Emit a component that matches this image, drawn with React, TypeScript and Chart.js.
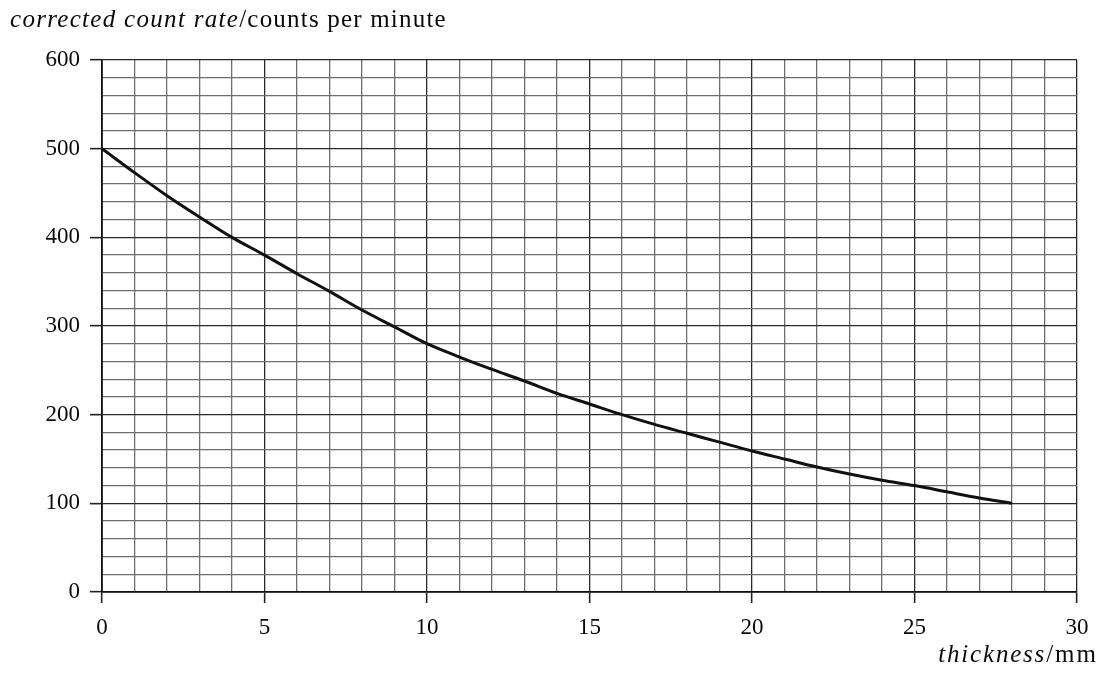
import React, { useEffect, useRef } from "react";
import { Chart, registerables } from "chart.js";

Chart.register(...registerables);

const thicknessMm = [0, 1, 2, 3, 4, 5, 6, 7, 8, 9, 10, 11, 12, 13, 14, 15, 16, 17, 18, 19, 20, 21, 22, 23, 24, 25, 26, 27, 28];
const countRate = [500, 473, 447, 423, 400, 380, 359, 339, 318, 299, 280, 265, 251, 238, 224, 212, 200, 189, 179, 169, 159, 150, 141, 133, 126, 120, 113, 106, 100];
const xMajorLabels = [0, 5, 10, 15, 20, 25, 30];
const yMajorLabels = [0, 100, 200, 300, 400, 500, 600];

const SERIF = '"Liberation Serif", "Times New Roman", serif';

export default function App() {
  const canvasRef = useRef<HTMLCanvasElement | null>(null);

  useEffect(() => {
    const canvas = canvasRef.current;
    if (!canvas) return;
    const points = thicknessMm.map((x, i) => ({ x, y: countRate[i] }));
    const isXMajor = (v: number) => xMajorLabels.includes(v);
    const isYMajor = (v: number) => yMajorLabels.includes(v);

    const chart = new Chart(canvas, {
      type: "line",
      data: {
        datasets: [
          {
            data: points,
            borderColor: "#111",
            borderWidth: 3,
            pointRadius: 0,
            cubicInterpolationMode: "monotone",
            fill: false,
          },
        ],
      },
      options: {
        responsive: false,
        animation: false,
        layout: { padding: { left: 0, top: 60, right: 27, bottom: 0 } },
        plugins: { legend: { display: false }, tooltip: { enabled: false }, title: { display: false } },
        scales: {
          x: {
            type: "linear",
            min: 0,
            max: 30,
            afterFit: (scale: any) => {
              scale.height = 83;
            },
            ticks: {
              stepSize: 1,
              autoSkip: false,
              maxRotation: 0,
              padding: 11,
              color: "#0a0a0a",
              font: { family: SERIF, size: 23 },
              callback: (v: any) => (isXMajor(Number(v)) ? String(v) : ""),
            },
            grid: {
              color: (c: any) => (c.tick && isXMajor(c.tick.value) ? "#2a2a2a" : "#6e6e6e"),
              lineWidth: 1.3,
              tickLength: 11,
              tickColor: (c: any) => (c.tick && isXMajor(c.tick.value) ? "#222" : "rgba(0,0,0,0)"),
              tickWidth: 1.6,
            },
            border: { display: true, color: "#111", width: 1.8 },
          },
          y: {
            type: "linear",
            min: 0,
            max: 600,
            afterFit: (scale: any) => {
              scale.width = 102;
            },
            ticks: {
              stepSize: 20,
              autoSkip: false,
              padding: 10,
              color: "#0a0a0a",
              font: { family: SERIF, size: 23 },
              callback: (v: any) => (isYMajor(Number(v)) ? String(v) : ""),
            },
            grid: {
              color: (c: any) => (c.tick && isYMajor(c.tick.value) ? "#2a2a2a" : "#6e6e6e"),
              lineWidth: 1.3,
              tickLength: 12,
              tickColor: (c: any) => (c.tick && isYMajor(c.tick.value) ? "#222" : "rgba(0,0,0,0)"),
              tickWidth: 1.6,
            },
            border: { display: true, color: "#111", width: 1.8 },
          },
        },
      },
    } as any);

    return () => chart.destroy();
  }, []);

  return (
    <div style={{ position: "absolute", left: 0, top: 0, width: 1104, height: 675, background: "#fff", overflow: "hidden" }}>
      <canvas ref={canvasRef} width={1104} height={675} style={{ position: "absolute", left: 0, top: 0 }} />
      <div
        style={{
          position: "absolute",
          left: 10,
          top: 4,
          fontFamily: SERIF,
          fontSize: 25,
          color: "#0a0a0a",
          whiteSpace: "nowrap",
          lineHeight: "30px",
        }}
      >
        <i style={{ letterSpacing: "1.3px" }}>corrected count rate</i>
        <span style={{ letterSpacing: "1.2px" }}>/counts per minute</span>
      </div>
      <div
        style={{
          position: "absolute",
          right: 6,
          top: 639,
          fontFamily: SERIF,
          fontSize: 25,
          color: "#0a0a0a",
          whiteSpace: "nowrap",
          lineHeight: "30px",
        }}
      >
        <i style={{ letterSpacing: "1.8px" }}>thickness</i>
        <span style={{ letterSpacing: "2px" }}>/mm</span>
      </div>
    </div>
  );
}
